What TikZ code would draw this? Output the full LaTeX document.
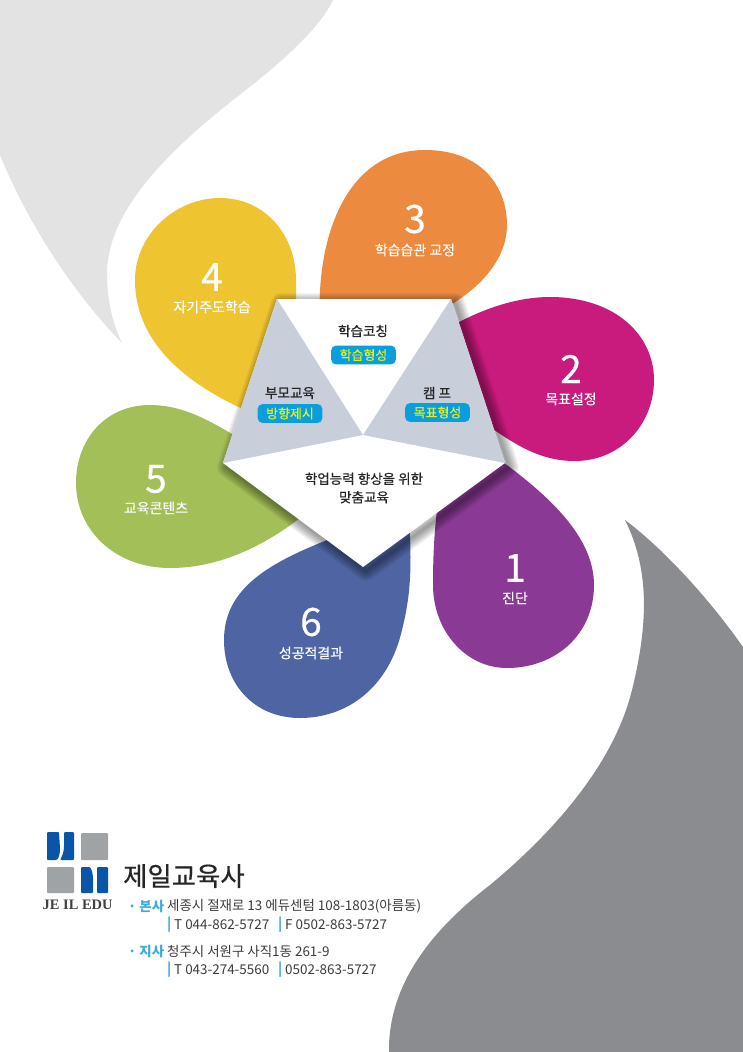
\documentclass[tikz,border=0pt]{standalone}
\usepackage{fontspec}
\setmainfont{Noto Sans CJK KR}
\newfontfamily\logofont{Liberation Serif}
\newfontfamily\midfont[FakeBold=0.5]{Noto Sans CJK KR}
\newfontfamily\lightfont[FakeBold=0.25]{Noto Sans CJK KR}
\usetikzlibrary{positioning}
\definecolor{lightback}{HTML}{E3E3E3}
\definecolor{darkback}{HTML}{8A8C8F}
\definecolor{petalone}{HTML}{8A3A94}
\definecolor{petaltwo}{HTML}{C91A7E}
\definecolor{petalthree}{HTML}{EC8B40}
\definecolor{petalfour}{HTML}{EFC431}
\definecolor{petalfive}{HTML}{A3BF58}
\definecolor{petalsix}{HTML}{4F65A3}
\definecolor{wedge}{HTML}{C9CEDB}
\definecolor{pillblue}{HTML}{0A9FDC}
\definecolor{pillyellow}{HTML}{E4F01E}
\definecolor{logoblue}{HTML}{0B55A8}
\definecolor{logogray}{HTML}{A0A3A5}
\definecolor{skyblue}{HTML}{3FA9E0}
\definecolor{addr}{HTML}{3C3C3C}
\tikzset{
  num/.style={text=white, inner sep=0mm, font=\midfont\fontsize{39}{39}\selectfont},
  petaltext/.style={text=white, inner sep=0mm, font=\lightfont\fontsize{14}{14}\selectfont},
  title/.style={text=black!85, inner sep=0mm, align=center, font=\midfont\fontsize{13.6}{18.5}\selectfont},
  pill/.style={fill=pillblue, rounded corners=5pt, minimum width=65pt, minimum height=19pt,
    inner sep=0mm, text=pillyellow, font=\midfont\fontsize{13}{13}\selectfont},
  logosq/.style={fill=logogray, rounded corners=1pt},
  logobar/.style={fill=logoblue, rounded corners=1pt},
  addrline/.style={anchor=west, inner sep=0mm, text=addr, font=\fontsize{13.5}{13.5}\selectfont},
  office/.style={anchor=west, inner sep=0mm, text=skyblue, font=\bfseries\fontsize{13.5}{13.5}\selectfont}
}
\begin{document}
\begin{tikzpicture}[x=1bp, y=-1bp]
   \useasboundingbox (0, 0) rectangle (743, 1052);
   \fill[white] (0, 0) rectangle (743, 1052);

   % background shapes
   \fill[lightback] (0, 0) -- (333, 0) .. controls (318, 32) and (272, 70) .. (233, 100)
     .. controls (170, 150) and (107, 210) .. (107, 274)
     .. controls (107, 300) and (113, 325) .. (122, 343)
     .. controls (85, 305) and (35, 240) .. (0, 155) -- cycle;
   \fill[darkback] (625, 520) .. controls (665, 550) and (710, 600) .. (743, 647)
     -- (743, 1052) -- (389, 1052)
     .. controls (388, 990) and (425, 935) .. (490, 885)
     .. controls (550, 835) and (613, 767) .. (632, 690)
     .. controls (648, 625) and (650, 570) .. (625, 520) -- cycle;

   % petals
   \fill[petalthree] (320, 320) .. controls (316, 240) and (345, 150) .. (425, 150)
     .. controls (480, 150) and (507, 185) .. (507, 225)
     .. controls (507, 265) and (470, 300) .. (420, 320) -- cycle;
   \fill[petaltwo] (450, 327) .. controls (480, 310) and (515, 297) .. (550, 297)
     .. controls (615, 297) and (654, 335) .. (654, 380)
     .. controls (654, 425) and (620, 461) .. (575, 461)
     .. controls (540, 461) and (515, 445) .. (480, 420) -- cycle;
   \fill[petalone] (500, 460) .. controls (555, 500) and (594, 540) .. (594, 585)
     .. controls (594, 635) and (555, 668) .. (507, 668)
     .. controls (465, 668) and (433, 630) .. (433, 585)
     .. controls (433, 560) and (434, 535) .. (437, 510) -- cycle;
   \fill[petalsix] (408, 500) .. controls (412, 560) and (412, 590) .. (402, 630)
     .. controls (388, 690) and (345, 718) .. (300, 718)
     .. controls (255, 718) and (224, 685) .. (224, 640)
     .. controls (224, 585) and (275, 560) .. (340, 535) -- cycle;
   \fill[petalfive] (232, 434) .. controls (205, 418) and (180, 405) .. (150, 405)
     .. controls (105, 405) and (76, 440) .. (76, 483)
     .. controls (76, 530) and (115, 568) .. (170, 568)
     .. controls (220, 568) and (265, 545) .. (300, 518) -- (270, 465) -- cycle;
   \fill[petalfour] (245, 410) .. controls (190, 385) and (135, 345) .. (135, 280)
     .. controls (135, 235) and (175, 198) .. (220, 198)
     .. controls (265, 198) and (296, 235) .. (296, 280) -- (296, 340) -- cycle;

   % shadow of the pentagon
   \foreach \w in {2, 4, ..., 20}{
     \draw[black, opacity=0.045, line width=\w pt, line join=round]
       (281, 303) -- (455, 303) -- (509, 467) -- (366, 571) -- (227, 467) -- cycle;
   }

   % pentagon
   \coordinate (tl) at (277, 299);
   \coordinate (tr) at (451, 299);
   \coordinate (ri) at (505, 463);
   \coordinate (bo) at (363, 567);
   \coordinate (le) at (223, 463);
   \coordinate (mid) at (363, 435);
   \fill[white] (tl) -- (tr) -- (ri) -- (bo) -- (le) -- cycle;
   \fill[wedge] (tl) -- (mid) -- (le) -- cycle;
   \fill[wedge] (tr) -- (mid) -- (ri) -- cycle;

   \node[title] (coach) at (363, 331) {학습코칭};
   \node[pill] (habit) at (363.5, 355) {학습형성};
   \node[title] (parent) at (290, 393) {부모교육};
   \node[pill] (direction) at (290, 413.5) {방향제시};
   \node[title] (camp) at (437, 393) {캠 프};
   \node[pill] (goal) at (437.5, 412.5) {목표형성};
   \node[title] (center) at (364, 488) {학업능력 향상을 위한\\맞춤교육};

   % petal labels
   \node[num] (n3) at (415, 219) {3};
   \node[petaltext] (t3) at (415, 250) {학습습관 교정};
   \node[num] (n2) at (571, 369) {2};
   \node[petaltext] (t2) at (571, 399) {목표설정};
   \node[num] (n1) at (515, 568) {1};
   \node[petaltext] (t1) at (515, 598) {진단};
   \node[num] (n6) at (311, 622) {6};
   \node[petaltext] (t6) at (311, 653) {성공적결과};
   \node[num] (n5) at (156, 479) {5};
   \node[petaltext] (t5) at (156, 508) {교육콘텐츠};
   \node[num] (n4) at (212, 277) {4};
   \node[petaltext] (t4) at (212, 307) {자기주도학습};

   % logo
   \fill[logobar] (47, 832) -- (59, 832) -- (60, 848) .. controls (60, 853) and (59, 857) .. (57, 860) -- (47, 860) -- cycle;
   \fill[logobar] (64, 832) -- (74, 832) -- (74, 860) -- (60, 860) .. controls (63, 855) and (64, 850) .. (64, 845) -- cycle;
   \fill[logosq] (81, 833) rectangle (108, 860);
   \fill[logosq] (47, 867) rectangle (74, 893);
   \fill[logobar] (81, 867) -- (90, 867) .. controls (92, 870) and (93, 875) .. (93, 880) -- (93, 893) -- (81, 893) -- cycle;
   \fill[logobar] (97, 867) -- (108, 867) -- (108, 893) -- (97, 893) -- cycle;
   \node[anchor=west, inner sep=0mm, text=black!85, font=\midfont\fontsize{26.5}{26.5}\selectfont] (company) at (123, 876) {제일교육사};
   \node[anchor=west, inner sep=0mm, text=black!75, font=\logofont\bfseries\fontsize{14.5}{14.5}\selectfont] (edu) at (42.5, 905) {JE IL EDU};

   % addresses
   \node[office] (head) at (128, 906) {· 본사};
   \node[addrline] (headaddr) at (167, 906) {세종시 절재로 13 에듀센텀 108-1803(아름동)};
   \node[office] (bar1) at (167, 925) {|};
   \node[addrline] (headtel) at (174, 925) {T 044-862-5727};
   \node[office] (bar2) at (278, 925) {|};
   \node[addrline] (headfax) at (285, 925) {F 0502-863-5727};
   \node[office] (branch) at (128, 951) {· 지사};
   \node[addrline] (branchaddr) at (167, 951) {청주시 서원구 사직1동 261-9};
   \node[office] (bar3) at (167, 970) {|};
   \node[addrline] (branchtel) at (174, 970) {T 043-274-5560};
   \node[office] (bar4) at (278, 970) {|};
   \node[addrline] (branchfax) at (285, 970) {0502-863-5727};
\end{tikzpicture}
\end{document}
